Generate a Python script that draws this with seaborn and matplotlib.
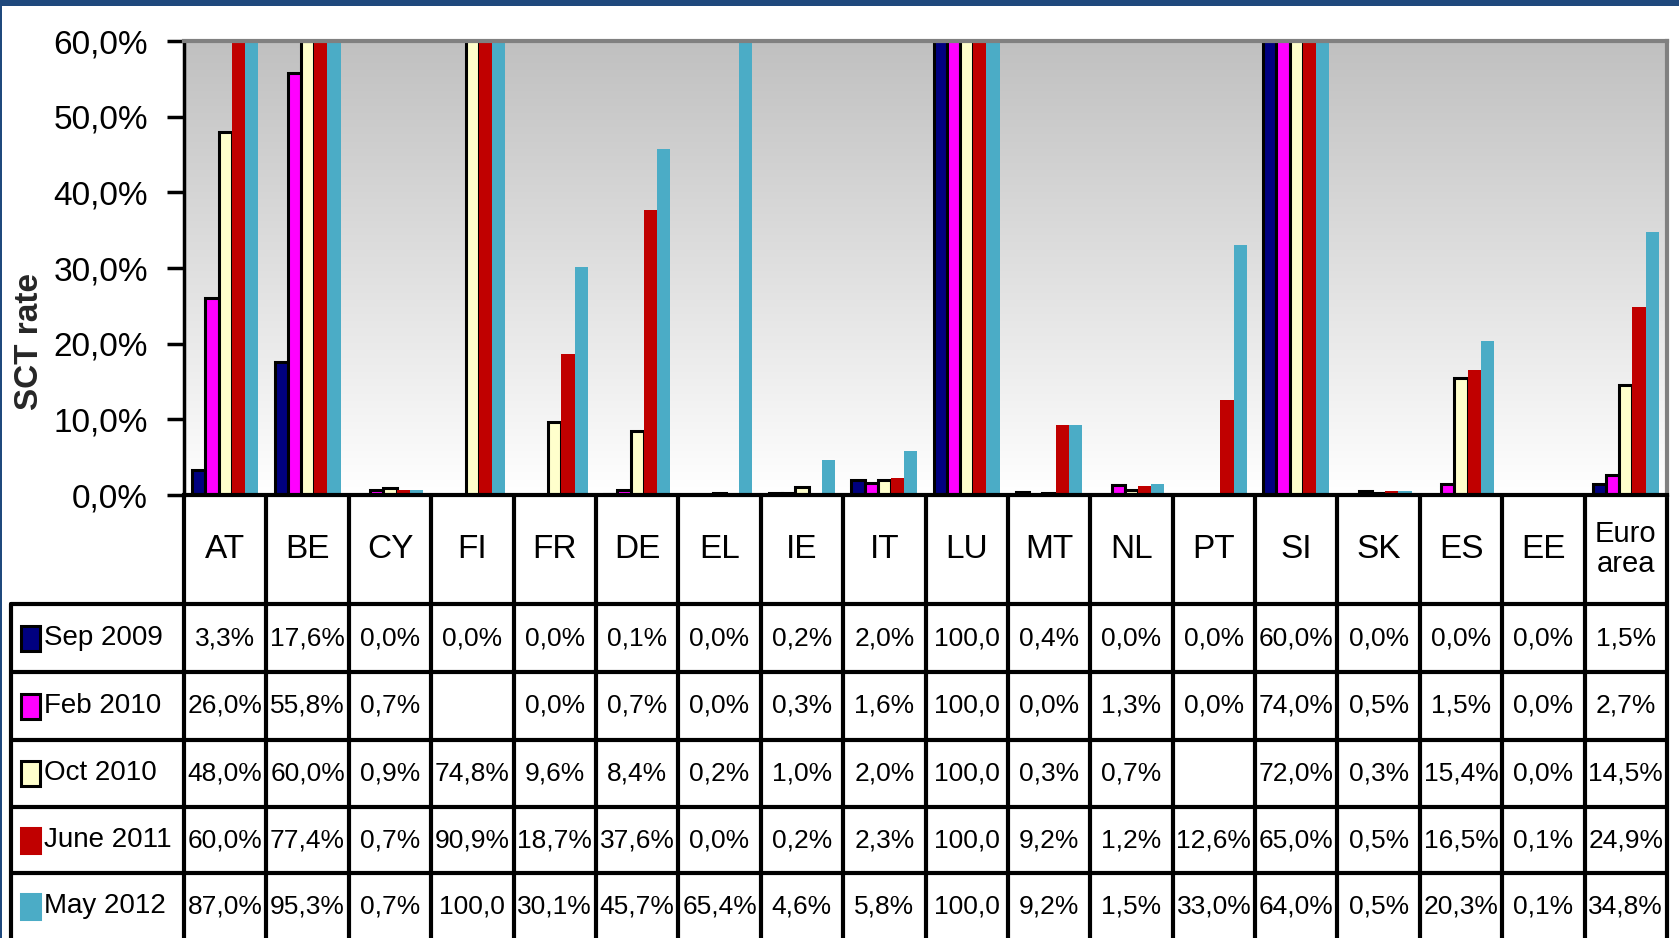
import numpy as np
import pandas as pd
import matplotlib
matplotlib.use("Agg")
import matplotlib.pyplot as plt
import matplotlib.transforms as mtransforms
from matplotlib.colors import LinearSegmentedColormap
from matplotlib.lines import Line2D
from matplotlib.patches import Rectangle
import seaborn as sns

# ---------------- data ----------------
countries = ["AT", "BE", "CY", "FI", "FR", "DE", "EL", "IE", "IT", "LU", "MT",
             "NL", "PT", "SI", "SK", "ES", "EE", "Euro\narea"]
periods = ["Sep 2009", "Feb 2010", "Oct 2010", "June 2011", "May 2012"]
nan = np.nan
sep_2009 = [3.3, 17.6, 0.0, 0.0, 0.0, 0.1, 0.0, 0.2, 2.0, 100.0, 0.4, 0.0, 0.0, 60.0, 0.0, 0.0, 0.0, 1.5]
feb_2010 = [26.0, 55.8, 0.7, nan, 0.0, 0.7, 0.0, 0.3, 1.6, 100.0, 0.0, 1.3, 0.0, 74.0, 0.5, 1.5, 0.0, 2.7]
oct_2010 = [48.0, 60.0, 0.9, 74.8, 9.6, 8.4, 0.2, 1.0, 2.0, 100.0, 0.3, 0.7, nan, 72.0, 0.3, 15.4, 0.0, 14.5]
jun_2011 = [60.0, 77.4, 0.7, 90.9, 18.7, 37.6, 0.0, 0.2, 2.3, 100.0, 9.2, 1.2, 12.6, 65.0, 0.5, 16.5, 0.1, 24.9]
may_2012 = [87.0, 95.3, 0.7, 100.0, 30.1, 45.7, 65.4, 4.6, 5.8, 100.0, 9.2, 1.5, 33.0, 64.0, 0.5, 20.3, 0.1, 34.8]
y_ticks = [0, 10, 20, 30, 40, 50, 60]

series = [sep_2009, feb_2010, oct_2010, jun_2011, may_2012]
colors = ["#000080", "#FF00FF", "#FFFFCC", "#C00000", "#4BACC6"]
edge_colors = ["black", "black", "black", "none", "none"]

rows = []
for per, vals in zip(periods, series):
    for c, v in zip(countries, vals):
        rows.append({"country": c, "period": per, "value": v})
df = pd.DataFrame(rows)

# ---------------- figure ----------------
W, H = 1679, 938
sns.set_theme(style="white")
plt.rcParams["font.family"] = ["Liberation Sans", "DejaVu Sans"]
plt.rcParams["text.color"] = "black"

fig = plt.figure(figsize=(W / 100, H / 100), dpi=100)
fig.patch.set_facecolor("white")
ax = fig.add_axes([184 / W, 1 - 495 / H, (1667 - 184) / W, (495 - 41) / H])

sns.barplot(data=df.dropna(), x="country", y="value", hue="period",
            order=countries, hue_order=periods, palette=colors,
            saturation=1, width=0.8, errorbar=None, legend=False, ax=ax,
            zorder=2)

for cont, ec in zip(ax.containers, edge_colors):
    for p in cont:
        p.set_edgecolor(ec)
        p.set_linewidth(2.2 if ec != "none" else 0)

# gradient plot background
cmap = LinearSegmentedColormap.from_list("bg", ["#C0C0C0", "#FFFFFF"])
grad = np.linspace(1, 0, 256)[:, None]
ax.imshow(grad, extent=[-0.5, len(countries) - 0.5, 0, 60], aspect="auto",
          cmap=cmap, origin="lower", zorder=0, vmin=0, vmax=1)
ax.set_xlim(-0.5, len(countries) - 0.5)
ax.set_ylim(0, 60)

for s in ["top", "right"]:
    ax.spines[s].set_color("#808080")
    ax.spines[s].set_linewidth(3)
ax.spines["left"].set_color("black")
ax.spines["left"].set_linewidth(2.5)
ax.spines["bottom"].set_color("black")
ax.spines["bottom"].set_linewidth(3)

ax.set_yticks(y_ticks)
ax.set_yticklabels([f"{v:.1f}".replace(".", ",") + "%" for v in y_ticks])
ax.tick_params(axis="y", left=True, length=12, width=2.5, color="black",
               labelsize=24, pad=14, labelcolor="black")
ax.set_xticks([])
ax.set_xlabel("")
ax.set_ylabel("SCT rate", fontsize=24, fontweight="bold")
ax.yaxis.set_label_coords(-0.094, 0.339)

# ---------------- data table ----------------
bt = mtransforms.blended_transform_factory(ax.transData, fig.transFigure)


def fy(ypx):
    return 1 - ypx / H


lw_tab = 3
for k in range(len(countries) + 1):
    xb = k - 0.5
    ax.add_line(Line2D([xb, xb], [fy(495), fy(940)], transform=bt,
                       color="black", lw=lw_tab, clip_on=False))

row_lines = [604, 672, 740, 807, 873]
for yl in row_lines:
    fig.add_artist(Line2D([11 / W, 1667 / W], [fy(yl), fy(yl)],
                          transform=fig.transFigure, color="black", lw=lw_tab))
fig.add_artist(Line2D([11 / W, 11 / W], [fy(604), fy(940)],
                      transform=fig.transFigure, color="black", lw=lw_tab))

# header (country names)
for i, c in enumerate(countries):
    ax.text(i, fy(549), c, transform=bt, ha="center", va="center",
            fontsize=21 if "\n" in c else 24, linespacing=1.1, clip_on=False)

row_centers = [638, 706, 773, 840, 906]
for r, (per, vals, col, ec) in enumerate(zip(periods, series, colors, edge_colors)):
    yc = row_centers[r]
    fig.add_artist(Rectangle((21 / W, fy(yc + 13)), 19 / W, 25 / H,
                             transform=fig.transFigure, facecolor=col,
                             edgecolor=ec if ec != "none" else col,
                             lw=2.2))
    fig.text(44 / W, fy(yc), per, ha="left", va="center", fontsize=20)
    for i, v in enumerate(vals):
        if np.isnan(v):
            continue
        txt = f"{v:.1f}".replace(".", ",")
        if v < 100:
            txt += "%"
        ax.text(i, fy(yc), txt, transform=bt, ha="center", va="center",
                fontsize=19, clip_on=False)

# blue slide borders
fig.add_artist(Rectangle((0, fy(6)), 1, 6 / H, transform=fig.transFigure,
                         facecolor="#1F497D", edgecolor="none"))
fig.add_artist(Rectangle((0, 0), 2 / W, 1, transform=fig.transFigure,
                         facecolor="#1F497D", edgecolor="none"))

fig.savefig("out.png", dpi=100, facecolor="white")
